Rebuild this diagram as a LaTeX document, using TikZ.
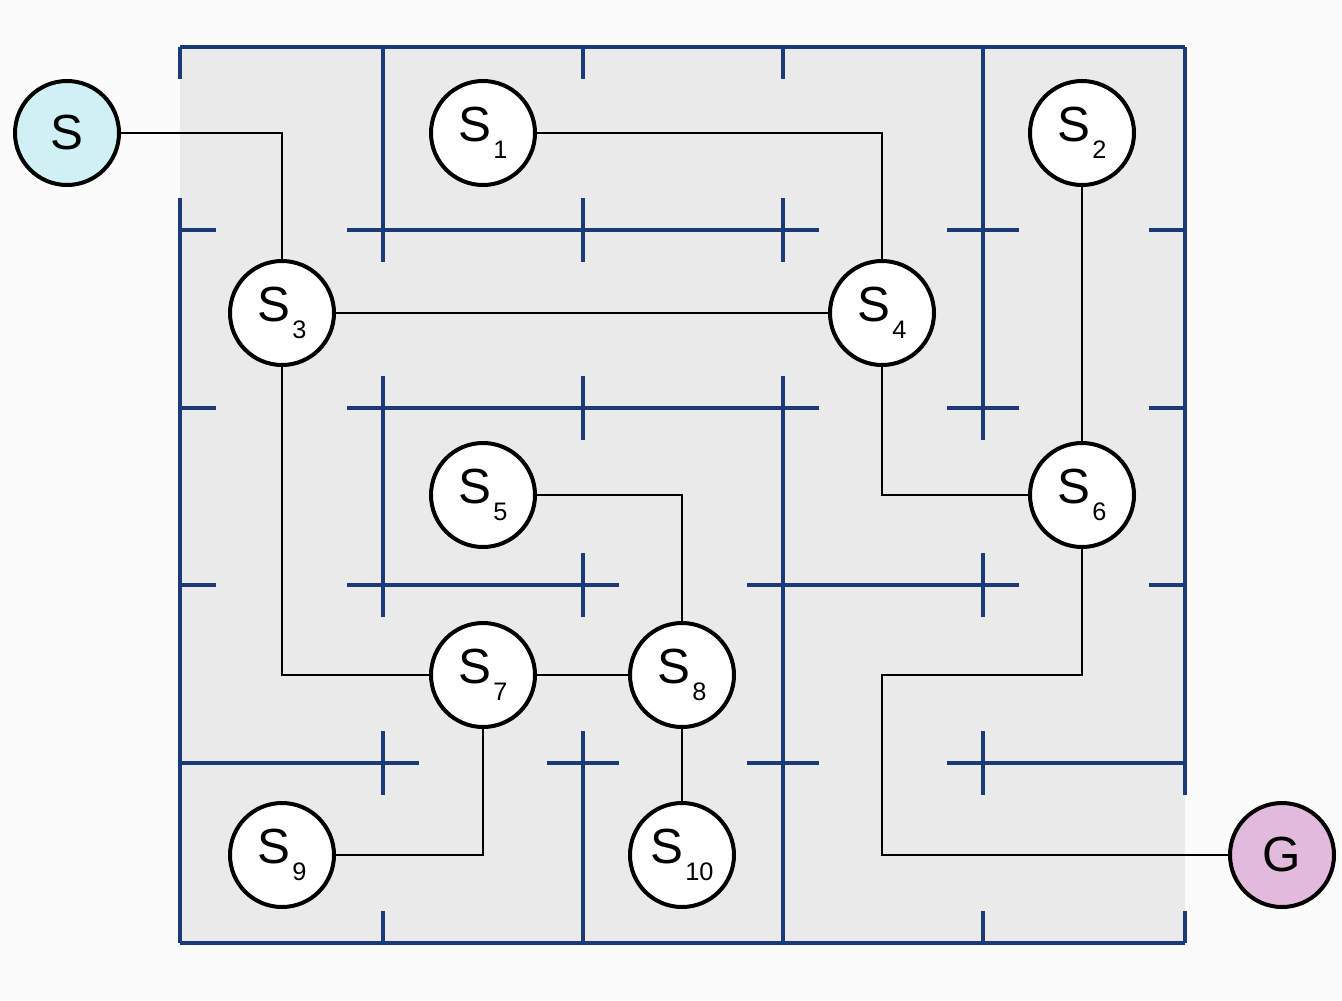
\documentclass[tikz,border=0pt]{standalone}
\usepackage{fontspec}
\setmainfont{Liberation Sans}
\definecolor{wallblue}{HTML}{1B3A78}
\definecolor{startcyan}{HTML}{D0F1F3}
\definecolor{goalpink}{HTML}{E2BADB}
\definecolor{mazebg}{HTML}{EAEAEA}
\newcommand{\sublbl}[1]{S\kern1.5pt\raisebox{-13pt}{\fontsize{19}{19}\selectfont #1}}
\begin{document}
\begin{tikzpicture}[x=0.75pt,y=-0.75pt,
  wall/.style={draw=wallblue,line width=3pt},
  link/.style={draw=black,line width=1.8pt},
  state/.style={circle,draw=black,line width=3pt,fill=white,minimum size=78pt,inner sep=0pt,
    font=\fontsize{37}{37}\selectfont}]
\useasboundingbox (0,0) rectangle (1342,1000);
\fill[white!97!gray] (0,0) rectangle (1342,1000);
\fill[mazebg] (180,47) rectangle (1185,943);
% horizontal walls
\draw[wall] (180,47) -- (1185,47);
\draw[wall] (180,943) -- (1185,943);
\draw[wall] (180,230) -- (216,230) (347,230) -- (819,230) (947,230) -- (1019,230) (1149,230) -- (1185,230);
\draw[wall] (180,408) -- (216,408) (347,408) -- (819,408) (947,408) -- (1019,408) (1149,408) -- (1185,408);
\draw[wall] (180,585) -- (216,585) (347,585) -- (619,585) (747,585) -- (1019,585) (1149,585) -- (1185,585);
\draw[wall] (180,763) -- (419,763) (547,763) -- (619,763) (747,763) -- (819,763) (947,763) -- (1185,763);
% vertical walls
\draw[wall] (180,47) -- (180,79) (180,198) -- (180,943);
\draw[wall] (383,47) -- (383,262) (383,376) -- (383,617) (383,731) -- (383,795) (383,911) -- (383,943);
\draw[wall] (583,47) -- (583,79) (583,198) -- (583,262) (583,376) -- (583,440) (583,553) -- (583,617) (583,731) -- (583,943);
\draw[wall] (783,47) -- (783,79) (783,198) -- (783,262) (783,376) -- (783,943);
\draw[wall] (983,47) -- (983,440) (983,553) -- (983,617) (983,731) -- (983,795) (983,911) -- (983,943);
\draw[wall] (1185,47) -- (1185,795) (1185,911) -- (1185,943);
% states
\node[state,fill=startcyan] (S) at (67,133) {S};
\node[state] (S1) at (483,133) {\sublbl{1}};
\node[state] (S2) at (1082,133) {\sublbl{2}};
\node[state] (S3) at (282,313) {\sublbl{3}};
\node[state] (S4) at (882,313) {\sublbl{4}};
\node[state] (S5) at (483,495) {\sublbl{5}};
\node[state] (S6) at (1082,495) {\sublbl{6}};
\node[state] (S7) at (483,675) {\sublbl{7}};
\node[state] (S8) at (682,675) {\sublbl{8}};
\node[state] (S9) at (282,855) {\sublbl{9}};
\node[state] (S10) at (682,855) {\sublbl{10}};
\node[state,fill=goalpink] (G) at (1282,855) {G};
\coordinate (c1) at (882,675);
% links
\draw[link] (S) -| (S3);
\draw[link] (S1) -| (S4);
\draw[link] (S3) -- (S4);
\draw[link] (S2) -- (S6);
\draw[link] (S4) |- (S6);
\draw[link] (S3) |- (S7);
\draw[link] (S5) -| (S8);
\draw[link] (S7) -- (S8);
\draw[link] (S8) -- (S10);
\draw[link] (S7) |- (S9);
\draw[link] (S6) |- (c1) |- (G);
\end{tikzpicture}
\end{document}
